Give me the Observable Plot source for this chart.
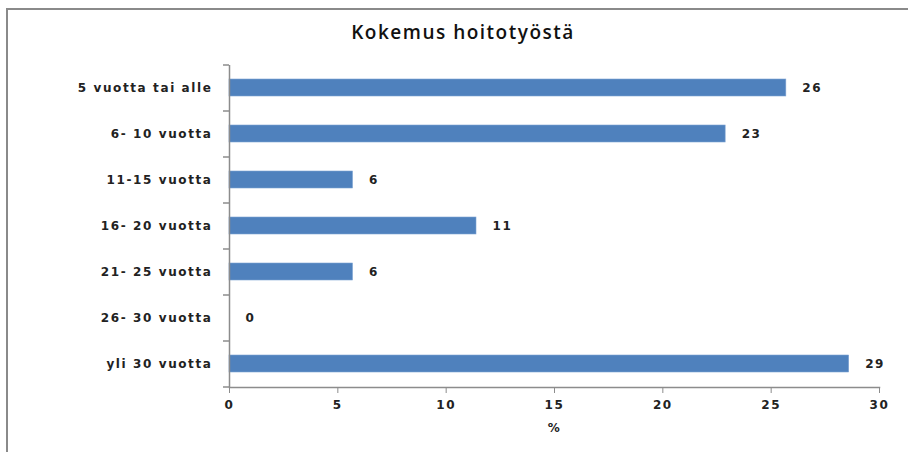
<!DOCTYPE html>
<html>
<head>
<meta charset="utf-8">
<script src="https://cdn.jsdelivr.net/npm/d3@7"></script>
<script src="https://cdn.jsdelivr.net/npm/@observablehq/plot@0.6"></script>
<style>
  html, body { margin: 0; padding: 0; background: #fff; }
  body { width: 908px; height: 452px; position: relative; overflow: hidden; }
  #frame { position: absolute; left: 6px; top: 8px; width: 940px; height: 480px;
           border-top: 2px solid #8a8a8a; border-left: 2px solid #8a8a8a; }
  #title { position: absolute; left: 0; top: 19px; width: 926px; text-align: center;
           font-family: "Open Sans", sans-serif; font-weight: 600; font-size: 19px;
           letter-spacing: 1.5px; color: #111; }
  #chart { position: absolute; left: 0; top: 0; }
  #chart svg text { letter-spacing: 1.6px; }
</style>
</head>
<body>
<div id="frame"></div>
<div id="title">Kokemus hoitotyöstä</div>
<div id="chart"></div>
<script>
const categories = ["5 vuotta tai alle", "6- 10 vuotta", "11-15 vuotta", "16- 20 vuotta", "21- 25 vuotta", "26- 30 vuotta", "yli 30 vuotta"];
const values = [25.7, 22.9, 5.7, 11.4, 5.7, 0, 28.6];
const valueLabels = ["26", "23", "6", "11", "6", "0", "29"];
const xTicks = [0, 5, 10, 15, 20, 25, 30];
const xLabel = "%";

const data = categories.map((c, i) => ({cat: c, value: values[i], label: valueLabels[i]}));
const fontFam = "DejaVu Sans, Verdana, sans-serif";
const axisColor = "#8c8c8c";

const chart = Plot.plot({
  width: 908,
  height: 452,
  marginLeft: 229,
  marginRight: 29,
  marginTop: 65,
  marginBottom: 65,
  style: {fontFamily: fontFam, fontSize: "12px", fontWeight: "bold", color: "#222", background: "transparent"},
  x: {domain: [0, 30], ticks: xTicks, label: null},
  y: {domain: categories, paddingInner: 0.63, paddingOuter: 0.315, label: null},
  marks: [
    Plot.barX(data, {x: "value", y: "cat", fill: "#4f81bd", stroke: "#7ea3d3", strokeWidth: 0.6}),
    Plot.text(data, {x: "value", y: "cat", text: "label", dx: 16, textAnchor: "start", fill: "#222", fontSize: 12, fontWeight: "bold"}),
    Plot.ruleX([0], {stroke: axisColor, strokeWidth: 1.5}),
    Plot.frame({anchor: "bottom", stroke: axisColor, strokeWidth: 1.5}),
    Plot.ruleY(categories, {y: d => d, x1: 0, x2: 0, dy: -23, insetLeft: -6, stroke: axisColor, strokeWidth: 1.5}),
    Plot.ruleY(categories.slice(-1), {y: d => d, x1: 0, x2: 0, dy: 23, insetLeft: -6, stroke: axisColor, strokeWidth: 1.5}),
    Plot.axisY({tickSize: 0, tickPadding: 17, fontSize: 12, label: null}),
    Plot.axisX({ticks: xTicks, tickSize: 6, tickPadding: 7, stroke: axisColor, fill: "#222", fontSize: 12,
                label: xLabel, labelAnchor: "center", labelOffset: 44, labelArrow: "none"})
  ]
});
document.getElementById("chart").appendChild(chart);
</script>
</body>
</html>
